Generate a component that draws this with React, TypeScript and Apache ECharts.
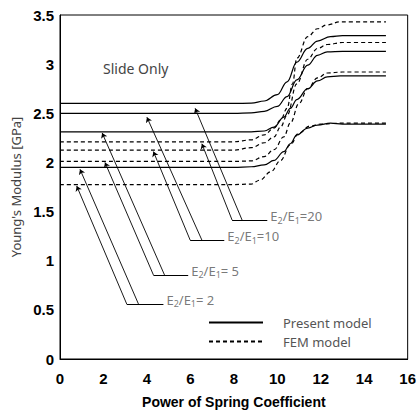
import React, { useEffect, useRef } from "react";
import * as echarts from "echarts";

// axis ranges
const xRange = { min: 0, max: 16, interval: 2 };
const yRange = { min: 0, max: 3.5, interval: 0.5 };

const xAxisTitle = "Power of Spring Coefficient";
const yAxisTitle = "Young's Modulus [GPa]";
const noteText = "Slide Only";
const legendNames = ["Present model", "FEM model"];

// Present model curves (E2/E1 = 20, 10, 5, 2)
const present20: number[][] = [[0, 2.6], [8, 2.6], [8.8, 2.603], [9.4, 2.625], [10, 2.69], [10.45, 2.82], [10.9, 3.02], [11.4, 3.16], [11.85, 3.235], [12.45, 3.28], [13, 3.29], [15, 3.29]];
const present10: number[][] = [[0, 2.5], [8, 2.5], [8.8, 2.505], [9.4, 2.52], [10, 2.57], [10.45, 2.67], [10.9, 2.84], [11.4, 2.99], [11.85, 3.09], [12.3, 3.125], [13, 3.13], [15, 3.13]];
const present5: number[][] = [[0, 2.31], [8, 2.31], [8.8, 2.31], [9.4, 2.32], [9.85, 2.36], [10.3, 2.46], [10.6, 2.55], [10.9, 2.64], [11.4, 2.75], [11.85, 2.83], [12.3, 2.87], [12.9, 2.88], [15, 2.88]];
const present2: number[][] = [[0, 1.95], [8, 1.95], [8.8, 1.956], [9.4, 1.975], [9.85, 2.02], [10.3, 2.11], [10.6, 2.19], [10.9, 2.28], [11.4, 2.35], [11.85, 2.38], [12.45, 2.4], [13, 2.39], [15, 2.39]];

// FEM model curves (E2/E1 = 20, 10, 5, 2)
const fem20: number[][] = [[0, 2.21], [8, 2.21], [8.8, 2.23], [9.4, 2.28], [9.85, 2.35], [10.15, 2.43], [10.45, 2.55], [10.7, 2.8], [10.9, 3.06], [11.4, 3.28], [11.85, 3.36], [12.3, 3.4], [12.9, 3.43], [15, 3.43]];
const fem10: number[][] = [[0, 2.125], [8, 2.125], [8.8, 2.15], [9.4, 2.2], [9.85, 2.26], [10.15, 2.36], [10.45, 2.48], [10.9, 2.8], [11.4, 3.05], [11.85, 3.16], [12.3, 3.2], [13, 3.22], [15, 3.22]];
const fem5: number[][] = [[0, 2.01], [8, 2.01], [8.8, 2.015], [9.4, 2.06], [9.85, 2.13], [10.3, 2.26], [10.6, 2.4], [11, 2.6], [11.4, 2.75], [11.85, 2.86], [12.3, 2.91], [13, 2.92], [15, 2.92]];
const fem2: number[][] = [[0, 1.775], [8, 1.775], [8.8, 1.78], [9.2, 1.82], [9.7, 1.905], [10.15, 2.02], [10.6, 2.18], [11, 2.3], [11.5, 2.37], [12, 2.39], [13, 2.4], [15, 2.4]];

const presentCurves = [present20, present10, present5, present2];
const femCurves = [fem20, fem10, fem5, fem2];

// annotation labels and leader lines (data coordinates)
const ratioLabels = ["=20", "=10", "= 5", "= 2"];
const shelfY = [1.414, 1.21, 0.855, 0.56];
const shelfStartX = [7.92, 5.99, 4.3, 3.07];
const shelfEndX = [9.54, 7.56, 5.9, 4.76];
const solidLeaderStartX = [8.38, 6.53, 4.81, 3.61];
const solidTips: number[][] = [[6.22, 2.55], [4.0, 2.46], [1.94, 2.3], [0.92, 1.93]];
const dashedTips: number[][] = [[6.53, 2.19], [4.3, 2.11], [2.07, 2.0], [0.77, 1.76]];

const FONT = "'Noto Sans', sans-serif";
const BOLD = "'Liberation Sans', Arial, sans-serif";

export default function App() {
  const ref = useRef<HTMLDivElement>(null);
  useEffect(() => {
    if (!ref.current) return;
    const chart = echarts.init(ref.current, undefined, { renderer: "svg" });

    const curveSeries: any[] = [];
    presentCurves.forEach((d) =>
      curveSeries.push({
        type: "line",
        name: legendNames[0],
        data: d,
        symbol: "none",
        smooth: 0.4,
        smoothMonotone: "x",
        lineStyle: { color: "#000", width: 1.2, type: "solid" },
        itemStyle: { color: "#000" },
        z: 3,
      })
    );
    femCurves.forEach((d) =>
      curveSeries.push({
        type: "line",
        name: legendNames[1],
        data: d,
        symbol: "none",
        smooth: 0.4,
        smoothMonotone: "x",
        lineStyle: { color: "#000", width: 1.2, type: [4, 3] },
        itemStyle: { color: "#000" },
        z: 3,
      })
    );

    const shelfData = shelfY.map((y, i) => ({ coords: [[shelfStartX[i], y], [shelfEndX[i], y]] }));
    const leaderData: any[] = [];
    shelfY.forEach((y, i) => {
      leaderData.push({ coords: [[solidLeaderStartX[i], y], solidTips[i]] });
      leaderData.push({ coords: [[shelfStartX[i], y], dashedTips[i]] });
    });

    const option: any = {
      animation: false,
      grid: {
        left: 60,
        top: 15,
        right: 11,
        bottom: 55,
        show: true,
        borderColor: "#000",
        borderWidth: 1,
      },
      legend: {
        data: legendNames,
        orient: "vertical",
        left: 208,
        top: 316,
        padding: 0,
        itemWidth: 54,
        itemHeight: 14,
        itemGap: 6,
        selectedMode: false,
        itemStyle: { opacity: 0, color: "rgba(0,0,0,0)", borderWidth: 0 },
        textStyle: { fontFamily: FONT, fontSize: 13, color: "#555", padding: [0, 0, 0, 15] },
      },
      xAxis: {
        type: "value",
        min: xRange.min,
        max: xRange.max,
        interval: xRange.interval,
        name: xAxisTitle,
        nameLocation: "middle",
        nameGap: 36,
        nameTextStyle: { fontFamily: BOLD, fontWeight: "bold", fontSize: 14, color: "#000" },
        axisLine: { show: true, lineStyle: { color: "#000", width: 1 } },
        axisTick: { show: false },
        splitLine: { show: false },
        axisLabel: { fontFamily: BOLD, fontWeight: "bold", fontSize: 15, color: "#000", margin: 12 },
      },
      yAxis: {
        type: "value",
        min: yRange.min,
        max: yRange.max,
        interval: yRange.interval,
        name: yAxisTitle,
        nameLocation: "middle",
        nameGap: 35,
        nameTextStyle: { fontFamily: FONT, fontSize: 13, color: "#444" },
        axisLine: { show: true, lineStyle: { color: "#000", width: 1 } },
        axisTick: { show: false },
        splitLine: { show: false },
        axisLabel: { fontFamily: BOLD, fontWeight: "bold", fontSize: 15, color: "#000", margin: 6 },
      },
      graphic: [
        {
          type: "text",
          left: 103,
          top: 61,
          style: { text: noteText, fontFamily: FONT, fontSize: 14, fill: "#444" },
        },
      ],
      series: [
        ...curveSeries,
        {
          type: "lines",
          coordinateSystem: "cartesian2d",
          data: shelfData,
          symbol: ["none", "none"],
          lineStyle: { color: "#000", width: 1, opacity: 1 },
          silent: true,
          z: 4,
        },
        {
          type: "lines",
          coordinateSystem: "cartesian2d",
          data: leaderData,
          symbol: ["none", "arrow"],
          symbolSize: 5,
          lineStyle: { color: "#000", width: 0.9, opacity: 1 },
          silent: true,
          z: 4,
        },
        {
          type: "scatter",
          data: shelfY.map((y, i) => [shelfEndX[i], y]),
          symbolSize: 0,
          silent: true,
          label: {
            show: true,
            position: "right",
            distance: 3,
            offset: [0, -3],
            formatter: (p: any) => `{m|E}{s|2}{m|/E}{s|1}{m|${ratioLabels[p.dataIndex]}}`,
            rich: {
              m: { fontFamily: FONT, fontSize: 13, color: "#555", lineHeight: 14, verticalAlign: "top" },
              s: { fontFamily: FONT, fontSize: 9, color: "#555", lineHeight: 15, verticalAlign: "bottom" },
            },
          },
          z: 5,
        },
      ],
    };
    chart.setOption(option);
    return () => chart.dispose();
  }, []);
  return (
    <div
      ref={ref}
      style={{ position: "fixed", left: 0, top: 0, width: 419, height: 414, background: "#fff" }}
    />
  );
}
